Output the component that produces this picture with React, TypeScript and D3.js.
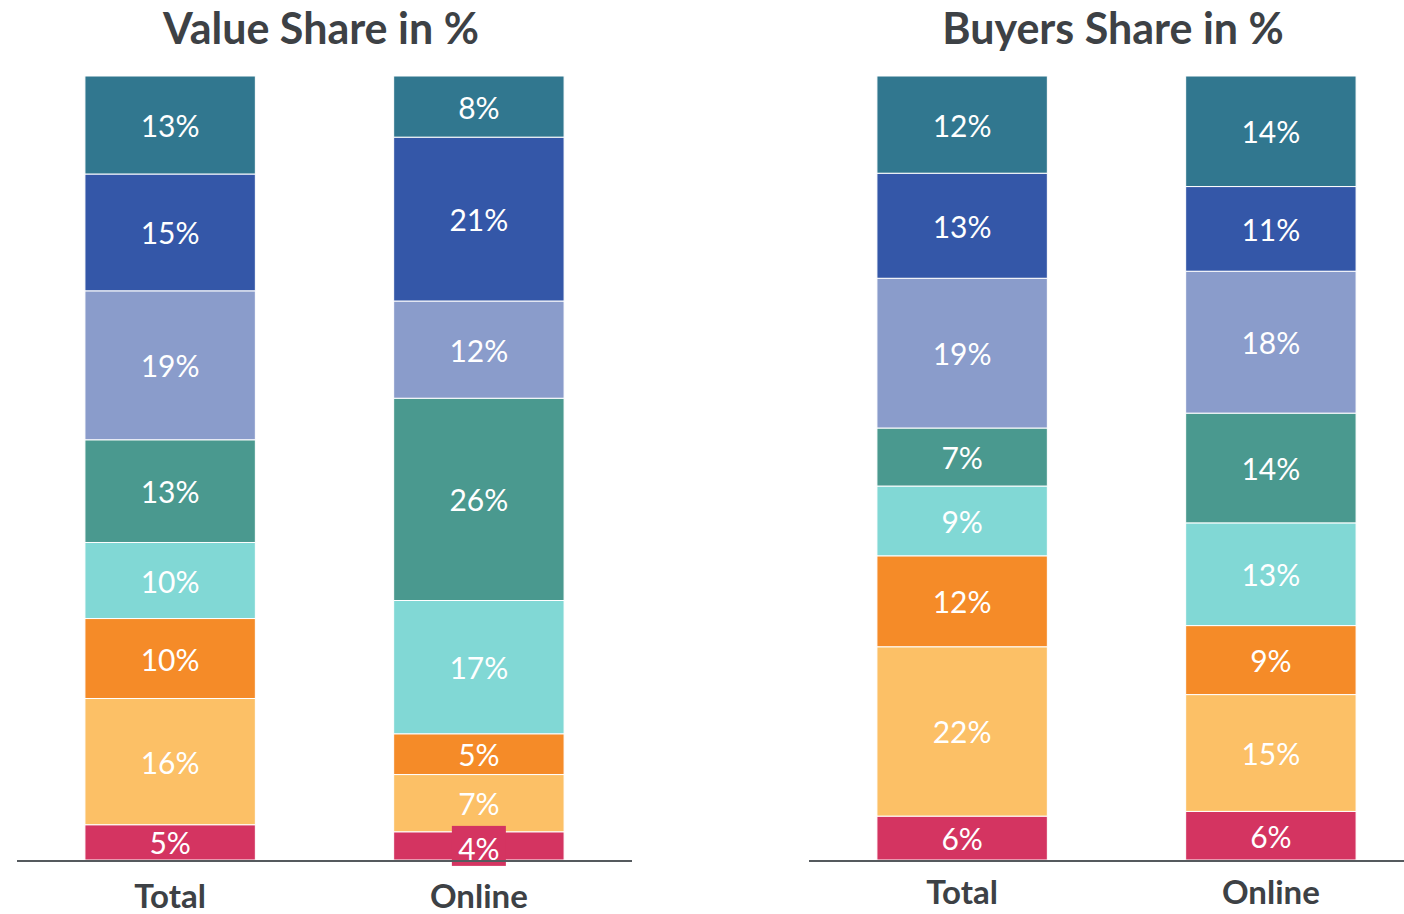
import React, { useEffect, useRef } from 'react';
import * as d3 from 'd3';

// segment order, bottom to top
const segmentColors = ['#D43461', '#FCC066', '#F58B28', '#81D8D5', '#4A998F', '#8A9CCB', '#3457A8', '#31778F'];

const categories = ['Total', 'Online'];

// value share (%), bottom to top
const valueTotal = [4.5, 16.1, 10.2, 9.7, 13.1, 19.0, 14.9, 12.5];
const valueOnline = [3.6, 7.3, 5.2, 17.0, 25.8, 12.4, 20.9, 7.8];
const valueLabels = [
  ['5%', '16%', '10%', '10%', '13%', '19%', '15%', '13%'],
  ['4%', '7%', '5%', '17%', '26%', '12%', '21%', '8%'],
];

// buyers share (%), bottom to top
const buyersTotal = [5.6, 21.6, 11.6, 8.9, 7.4, 19.1, 13.4, 12.4];
const buyersOnline = [6.2, 14.9, 8.8, 13.1, 14.0, 18.1, 10.8, 14.1];
const buyersLabels = [
  ['6%', '22%', '12%', '9%', '7%', '19%', '13%', '12%'],
  ['6%', '15%', '9%', '13%', '14%', '18%', '11%', '14%'],
];

const panels = [
  { title: 'Value Share in %', series: [valueTotal, valueOnline], labels: valueLabels, x0: 17, titleX: 321, catY: 895 },
  { title: 'Buyers Share in %', series: [buyersTotal, buyersOnline], labels: buyersLabels, x0: 809, titleX: 1113, catY: 891 },
];

const App = () => {
  const svgRef = useRef(null);

  useEffect(() => {
    const width = 1404;
    const height = 914;
    const svg = d3.select(svgRef.current);
    svg.selectAll('*').remove();
    svg.attr('width', width).attr('height', height);

    const font = 'Lato, "Open Sans", sans-serif';
    const textColor = '#3D4145';
    const top = 76;
    const baseline = 860;

    panels.forEach((p) => {
      const g = svg.append('g');

      const x = d3.scaleBand()
        .domain(categories)
        .range([p.x0, p.x0 + 615])
        .paddingInner(0.448)
        .paddingOuter(0.22);

      p.series.forEach((vals, ci) => {
        const y = d3.scaleLinear()
          .domain([0, d3.sum(vals)])
          .range([baseline, top]);

        const stacked = [];
        let acc = 0;
        vals.forEach((v, i) => {
          stacked.push({ y0: acc, y1: acc + v, color: segmentColors[i], label: p.labels[ci][i] });
          acc += v;
        });

        const cat = categories[ci];
        const bx = x(cat);
        const bw = x.bandwidth();

        g.selectAll(`.seg-${ci}`)
          .data(stacked)
          .enter()
          .append('rect')
          .attr('x', bx)
          .attr('width', bw)
          .attr('y', (d) => y(d.y1))
          .attr('height', (d) => y(d.y0) - y(d.y1))
          .attr('fill', (d) => d.color)
          .attr('stroke', '#fff')
          .attr('stroke-width', 1);

        stacked.forEach((d) => {
          const cy = (y(d.y0) + y(d.y1)) / 2;
          const small = y(d.y0) - y(d.y1) < 34;
          if (small) {
            // label gets its own box when the segment is too thin
            g.append('rect')
              .attr('x', bx + bw / 2 - 27)
              .attr('y', cy - 20)
              .attr('width', 54)
              .attr('height', 40)
              .attr('fill', d.color);
          }
          g.append('text')
            .attr('x', bx + bw / 2)
            .attr('y', cy + (small ? 2 : 0))
            .attr('text-anchor', 'middle')
            .attr('dominant-baseline', 'central')
            .attr('font-family', font)
            .attr('font-size', '30px')
            .attr('fill', '#fff')
            .text(d.label);
        });

        g.append('text')
          .attr('x', bx + bw / 2)
          .attr('y', p.catY)
          .attr('text-anchor', 'middle')
          .attr('dominant-baseline', 'central')
          .attr('font-family', font)
          .attr('font-weight', 'bold')
          .attr('font-size', '33px')
          .attr('fill', textColor)
          .text(cat);
      });

      g.append('line')
        .attr('x1', p.x0)
        .attr('x2', Math.min(p.x0 + 615, width))
        .attr('y1', baseline + 1)
        .attr('y2', baseline + 1)
        .attr('stroke', '#555A5E')
        .attr('stroke-width', 2);

      g.append('text')
        .attr('x', p.titleX)
        .attr('y', 27)
        .attr('text-anchor', 'middle')
        .attr('dominant-baseline', 'central')
        .attr('font-family', font)
        .attr('font-weight', 'bold')
        .attr('font-size', '43px')
        .attr('fill', textColor)
        .text(p.title);
    });
  }, []);

  return (
    <div style={{ position: 'absolute', left: 0, top: 0, background: '#fff' }}>
      <svg ref={svgRef} style={{ display: 'block' }}></svg>
    </div>
  );
};

export default App;
